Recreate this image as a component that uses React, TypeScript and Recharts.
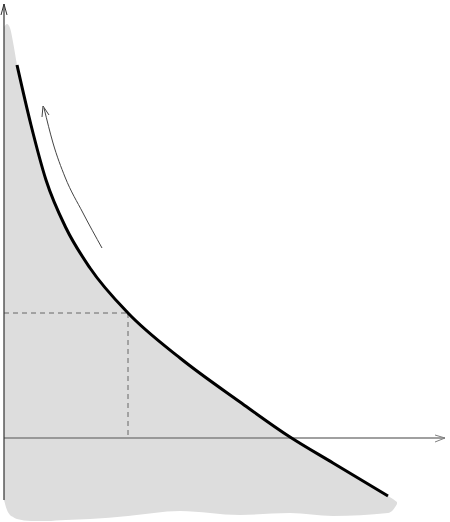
import * as React from "react";
import { ComposedChart, Line, Area, XAxis, YAxis } from "recharts";

// main curve (x, y in chart units; origin where the two axes cross)
const curve = [
  { x: 13, y: 373 },
  { x: 27, y: 313 },
  { x: 42, y: 258 },
  { x: 62, y: 210 },
  { x: 86, y: 170 },
  { x: 124, y: 125 },
  { x: 176, y: 80 },
  { x: 236, y: 36 },
  { x: 286, y: 1 },
  { x: 329, y: -25 },
  { x: 384, y: -58 },
];

// grey region behind the curve: [bottom, top]
const blob = [
  { x: 0, band: [-62, 411] },
  { x: 3, band: [-72, 414] },
  { x: 6, band: [-77, 410] },
  { x: 9, band: [-79, 396] },
  { x: 13, band: [-81, 373] },
  { x: 27, band: [-83, 313] },
  { x: 42, band: [-83, 258] },
  { x: 62, band: [-82, 210] },
  { x: 86, band: [-81, 170] },
  { x: 124, band: [-78, 125] },
  { x: 176, band: [-73, 80] },
  { x: 236, band: [-77, 36] },
  { x: 286, band: [-75, 1] },
  { x: 329, band: [-78, -25] },
  { x: 384, band: [-75, -58] },
  { x: 389, band: [-72, -61] },
  { x: 393, band: [-66, -64] },
];

const yAxisLine = [
  { x: 0, y: -62 },
  { x: 0, y: 434 },
];
const yArrow = [
  { x: -3, y: 423 },
  { x: 0, y: 434 },
  { x: 3, y: 423 },
];
const xAxisLine = [
  { x: 0, y: 0 },
  { x: 441, y: 0 },
];
const xArrow = [
  { x: 431, y: 3 },
  { x: 441, y: 0 },
  { x: 431, y: -4 },
];

// dashed guides to the marked point on the curve
const hGuide = [
  { x: 0, y: 125 },
  { x: 124, y: 125 },
];
const vGuide = [
  { x: 124, y: 125 },
  { x: 124, y: 2 },
];

// thin arrow along the curve
const moveShaft = [
  { x: 40, y: 330 },
  { x: 49, y: 295 },
  { x: 61, y: 261 },
  { x: 79, y: 225 },
  { x: 98, y: 190 },
];
const moveHead = [
  { x: 38, y: 321 },
  { x: 39, y: 332 },
  { x: 45, y: 323 },
];

const lineProps = {
  dataKey: "y",
  dot: false,
  activeDot: false,
  isAnimationActive: false,
  legendType: "none" as const,
};

export default function App() {
  return (
    <div style={{ position: "absolute", left: 0, top: 0 }}>
      <ComposedChart
        width={450}
        height={522}
        margin={{ top: 0, right: 0, bottom: 0, left: 0 }}
      >
        <XAxis type="number" dataKey="x" domain={[-4, 446]} allowDataOverflow hide />
        <YAxis type="number" domain={[-84, 438]} allowDataOverflow hide />

        <Area
          data={blob}
          dataKey="band"
          type="monotone"
          fill="#dddddd"
          fillOpacity={1}
          stroke="none"
          isAnimationActive={false}
          activeDot={false}
        />

        <Line {...lineProps} data={hGuide} stroke="#666" strokeWidth={1} strokeDasharray="5 4" />
        <Line {...lineProps} data={vGuide} stroke="#666" strokeWidth={1} strokeDasharray="5 4" />

        <Line {...lineProps} data={xAxisLine} stroke="#808080" strokeWidth={1.5} />
        <Line {...lineProps} data={xArrow} stroke="#808080" strokeWidth={1} />
        <Line {...lineProps} data={yAxisLine} stroke="#333" strokeWidth={1.2} />
        <Line {...lineProps} data={yArrow} stroke="#333" strokeWidth={1} />

        <Line {...lineProps} data={moveShaft} type="monotone" stroke="#444" strokeWidth={1} />
        <Line {...lineProps} data={moveHead} stroke="#444" strokeWidth={1} />

        <Line {...lineProps} data={curve} type="monotone" stroke="#000" strokeWidth={3} />
      </ComposedChart>
    </div>
  );
}
